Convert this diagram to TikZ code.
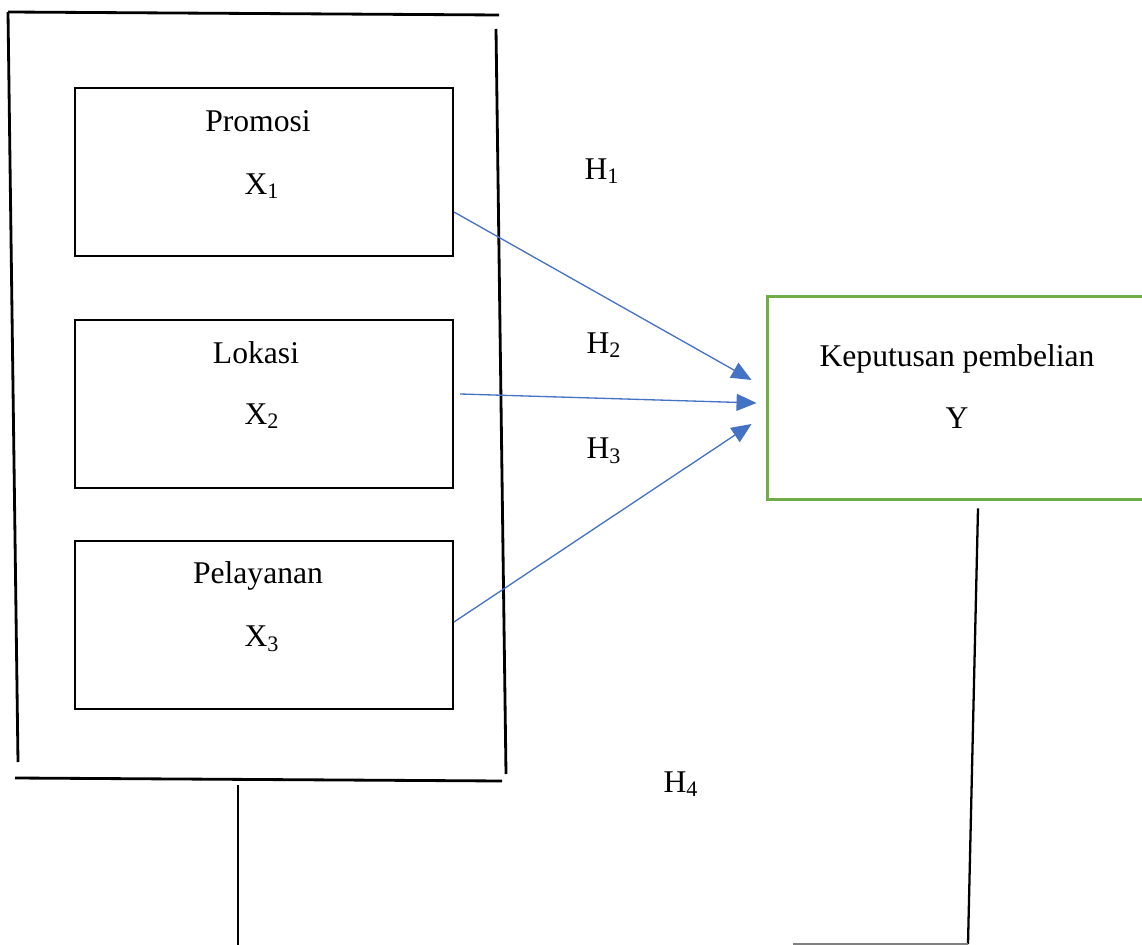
\documentclass[tikz,border=0pt]{standalone}
\usepackage{fontspec}
\setmainfont{Liberation Serif}
\usetikzlibrary{arrows.meta, positioning, calc}

\definecolor{hypblue}{HTML}{4472C4}
\definecolor{ygreen}{HTML}{70AD47}

\tikzset{
  varbox/.style={draw=black, line width=1.2pt, minimum width=7.56cm, minimum height=3.36cm, inner sep=0pt},
  ybox/.style={draw=ygreen, line width=1.7pt, minimum width=7.6cm, minimum height=4.08cm, inner sep=0pt},
  lbl/.style={font=\fontsize{18}{22}\selectfont, inner sep=0pt},
  frame/.style={draw=black, line width=1.6pt},
  hyp/.style={draw=hypblue, line width=0.75pt, -{Triangle[length=0.4cm, width=0.34cm]}}
}

\begin{document}
\begin{tikzpicture}[x=0.02cm, y=-0.02cm]
  \clip (0,0) rectangle (1142,945);

  % Independent variables
  \node[varbox] (promosi) at (264,172) {};
  \node[varbox] (lokasi) at (264,404) {};
  \node[varbox] (pelayanan) at (264,625) {};
  \node[lbl] (promosiT) at ($(promosi.north)+(-6,34)$) {Promosi};
  \node[lbl] (promosiX) at ($(promosi.north)+(-2,99)$) {X\textsubscript{1}};
  \node[lbl] (lokasiT) at ($(lokasi.north)+(-8,34)$) {Lokasi};
  \node[lbl] (lokasiX) at ($(lokasi.north)+(-2,97)$) {X\textsubscript{2}};
  \node[lbl] (pelayananT) at ($(pelayanan.north)+(-6,36)$) {Pelayanan};
  \node[lbl] (pelayananX) at ($(pelayanan.north)+(-2,99)$) {X\textsubscript{3}};

  % Outer frame
  \coordinate (fTL) at (8,12);
  \coordinate (fTR) at (499,15);
  \draw[frame] (fTL) -- (fTR);
  \draw[frame] (fTL) -- (18,762);
  \draw[frame] (496,29) -- (506,774);
  \draw[frame] (15,778) -- (502,781);

  % Dependent variable
  \node[ybox] (keputusan) at (957,398) {};
  \node[lbl] (keputusanT) at (957,359) {Keputusan pembelian};
  \node[lbl] (keputusanY) at (957,418) {Y};

  % Hypotheses
  \coordinate (s1) at ($(promosi.east)+(0,40)$);
  \coordinate (s2) at ($(lokasi.east)+(6,-10)$);
  \coordinate (s3) at ($(pelayanan.east)+(0,-3)$);
  \coordinate (t1) at ($(keputusan.west)+(-14,-18)$);
  \coordinate (t2) at ($(keputusan.west)+(-9,5)$);
  \coordinate (t3) at ($(keputusan.west)+(-14,26)$);
  \draw[hyp] (s1) -- (t1);
  \draw[hyp] (s2) -- (t2);
  \draw[hyp] (s3) -- (t3);

  \node[lbl] (h1) at (602,171) {H\textsubscript{1}};
  \node[lbl] (h2) at (604,345) {H\textsubscript{2}};
  \node[lbl] (h3) at (604,451) {H\textsubscript{3}};
  \node[lbl] (h4) at (681,784) {H\textsubscript{4}};

  % Simultaneous link
  \coordinate (bL) at (238,785);
  \coordinate (bR) at ($(keputusan.south)+(21,7)$);
  \draw[frame] (bL) -- (238,950);
  \draw[black, line width=1.3pt] (bR) -- (968,944);
  \draw[gray, line width=0.8pt] (968,944) -- (793,944);
\end{tikzpicture}
\end{document}
